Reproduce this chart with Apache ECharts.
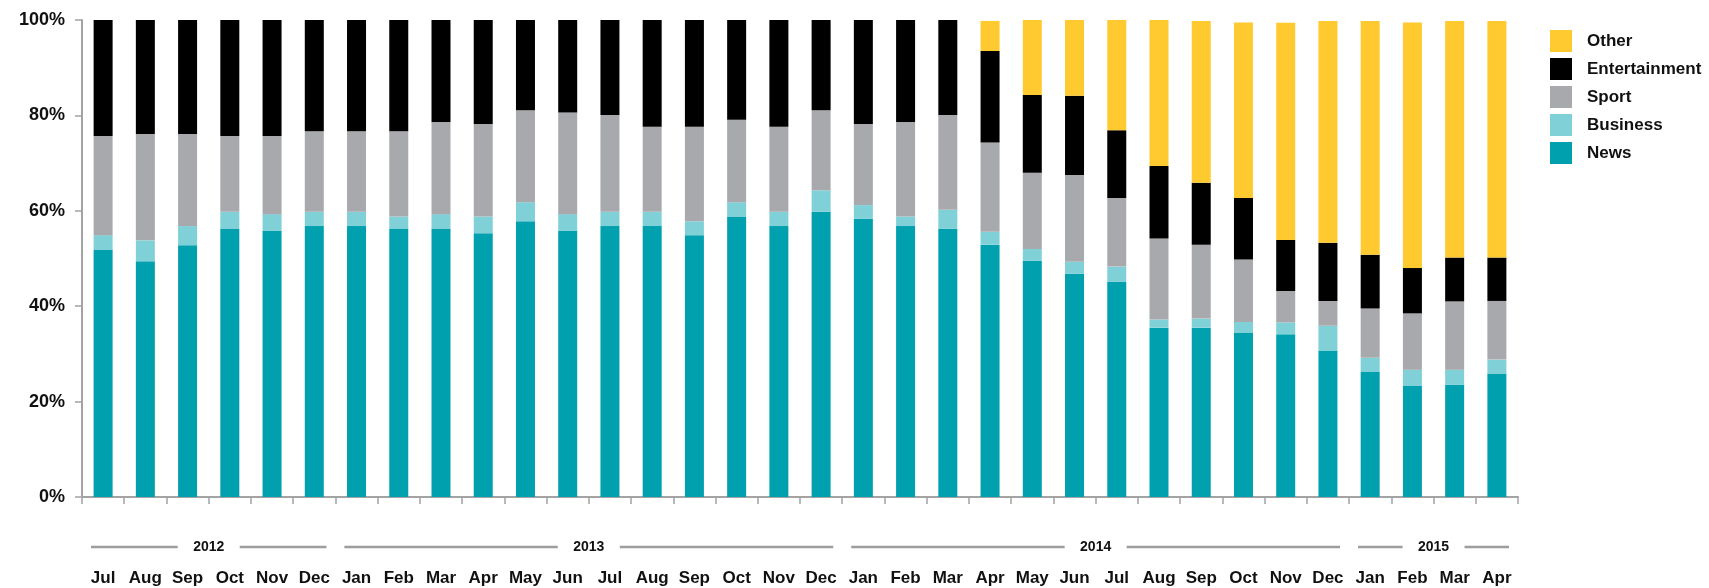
<!DOCTYPE html>
<html><head><meta charset="utf-8">
<script src="https://cdn.jsdelivr.net/npm/echarts@6/dist/echarts.min.js"></script>
<style>html,body{margin:0;padding:0;background:#fff}#c{width:1709px;height:588px}</style>
</head><body><div id="c"></div>
<script>
const months = ['Jul','Aug','Sep','Oct','Nov','Dec',
  'Jan','Feb','Mar','Apr','May','Jun','Jul','Aug','Sep','Oct','Nov','Dec',
  'Jan','Feb','Mar','Apr','May','Jun','Jul','Aug','Sep','Oct','Nov','Dec',
  'Jan','Feb','Mar','Apr'];
const yearLabels = ['2012','2013','2014','2015'];
const yearMonthCounts = [6,12,12,4];

const news = [51.9,49.4,52.8,56.3,55.8,56.8, 56.8,56.3,56.3,55.3,57.8,55.8,56.8,56.8,54.9,58.8,56.8,59.8,
  58.3,56.8,56.2,52.9,49.5,46.8,45.1,35.5,35.5,34.5,34.1,30.7, 26.3,23.4,23.5,25.9];
const business = [3.0,4.4,4.0,3.5,3.5,3.0, 3.0,2.5,3.0,3.5,4.0,3.5,3.0,3.0,2.9,3.0,3.0,4.5,
  2.9,2.0,4.0,2.7,2.5,2.5,3.2,1.7,1.9,2.2,2.5,5.2, 2.9,3.3,3.2,2.9];
const sport = [20.8,22.3,19.3,15.9,16.4,16.9, 16.9,17.9,19.3,19.4,19.3,21.3,20.3,17.8,19.8,17.3,17.8,16.8,
  17.0,19.8,19.9,18.7,16.0,18.2,14.4,17.0,15.5,13.1,6.6,5.2, 10.3,11.8,14.3,12.3];
const entertainment = [24.3,23.9,23.9,24.3,24.3,23.3, 23.3,23.3,21.4,21.8,18.9,19.4,19.9,22.4,22.4,20.9,22.4,18.9,
  21.8,21.4,19.9,19.2,16.3,16.6,14.2,15.2,13.0,12.9,10.7,12.2, 11.3,9.5,9.2,9.1];
const other = [0,0,0,0,0,0, 0,0,0,0,0,0,0,0,0,0,0,0,
  0,0,0,6.3,15.7,15.9,23.1,30.6,33.9,36.8,45.5,46.5, 49.0,51.5,49.6,49.6];

const FONT = '"Liberation Sans", Arial, sans-serif';
const AXIS = '#a3a3a3';
const chart = echarts.init(document.getElementById('c'));
function s(name, data, color){
  return {name, type:'bar', stack:'total', data, barWidth:19,
    itemStyle:{color}, emphasis:{disabled:true}};
}
chart.setOption({
  animation:false,
  grid:{left:82, right:191, top:20, bottom:91, containLabel:false},
  legend:{
    orient:'vertical', left:1545, top:25, itemWidth:22, itemHeight:22, itemGap:6,
    icon:'rect', data:['Other','Entertainment','Sport','Business','News'],
    textStyle:{fontFamily:FONT, fontWeight:'bold', fontSize:17, color:'#111', padding:[0,0,0,10]}
  },
  xAxis:{
    type:'category', data:months,
    axisLine:{lineStyle:{color:AXIS, width:2}},
    axisTick:{show:true, length:7, lineStyle:{color:AXIS, width:1.5}},
    axisLabel:{margin:73, fontFamily:FONT, fontWeight:'bold', fontSize:17, color:'#111', interval:0}
  },
  yAxis:{
    type:'value', min:0, max:100, interval:20,
    axisLine:{show:true, lineStyle:{color:AXIS, width:2}},
    axisTick:{show:true, length:7, lineStyle:{color:AXIS, width:1.5}},
    splitLine:{show:false},
    axisLabel:{formatter:'{value}%', margin:17, fontFamily:FONT, fontWeight:'bold', fontSize:18, color:'#111'}
  },
  series:[
    s('News', news, '#00a0ae'),
    s('Business', business, '#80d0d7'),
    s('Sport', sport, '#a8a9ad'),
    s('Entertainment', entertainment, '#000000'),
    s('Other', other, '#ffca2f')
  ]
});

const px = i => chart.convertToPixel({xAxisIndex:0}, i);
const band = px(1) - px(0);
const yLine = 547;
const els = [];
let start = 0;
yearLabels.forEach((yl, k) => {
  const n = yearMonthCounts[k];
  const l = px(start) - band/2 + 9, r = px(start + n - 1) + band/2 - 9;
  const c = (l + r)/2, half = 31;
  els.push({type:'line', silent:true, shape:{x1:l, y1:yLine, x2:c-half, y2:yLine}, style:{stroke:'#9d9d9d', lineWidth:2.5}});
  els.push({type:'line', silent:true, shape:{x1:c+half, y1:yLine, x2:r, y2:yLine}, style:{stroke:'#9d9d9d', lineWidth:2.5}});
  els.push({type:'text', silent:true, x:c, y:yLine, style:{text:yl, align:'center', verticalAlign:'middle',
    font:'bold 14px ' + FONT, fill:'#111'}});
  start += n;
});
chart.setOption({graphic:els});
</script>
</body></html>
